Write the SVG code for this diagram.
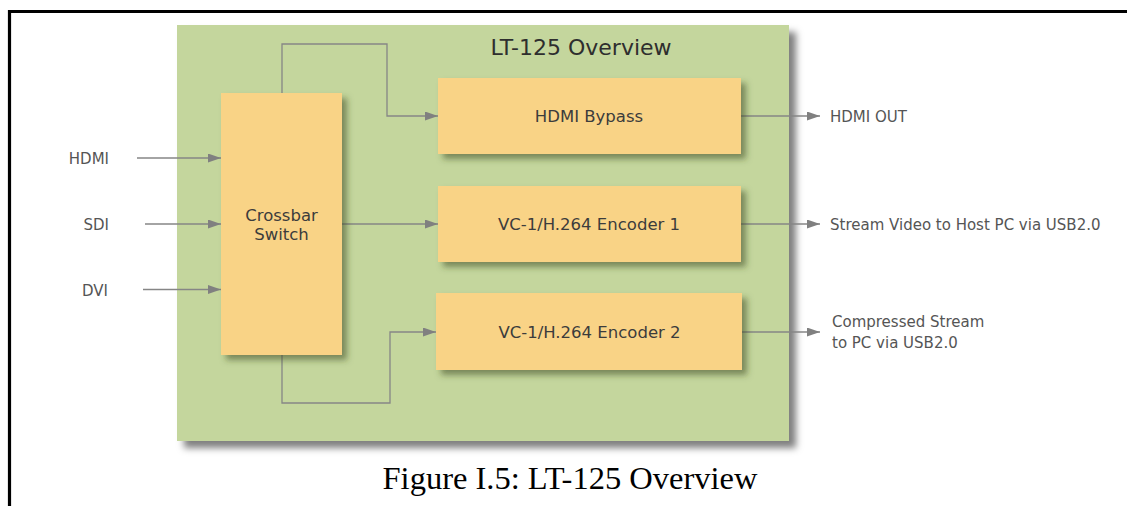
<svg xmlns="http://www.w3.org/2000/svg" width="1127" height="506" viewBox="0 0 1127 506">
<defs>
<style>
.lbl{font-family:"DejaVu Sans","Verdana",sans-serif;fill:#3c3c3c;font-size:16.5px;text-anchor:middle}
.out{font-family:"DejaVu Sans","Verdana",sans-serif;fill:#555555;font-size:15px}
.box{fill:#F9D386;filter:url(#sh)}
.conn{fill:none;stroke:#868686;stroke-width:1.3}
</style>
<filter id="sh" x="-10%" y="-10%" width="130%" height="140%">
<feDropShadow dx="5" dy="5" stdDeviation="3" flood-color="#3a4a20" flood-opacity="0.55"/>
</filter>
<filter id="shp" x="-5%" y="-5%" width="115%" height="120%">
<feDropShadow dx="7" dy="7" stdDeviation="3.5" flood-color="#000" flood-opacity="0.5"/>
</filter>
<marker id="arr" viewBox="0 0 13 9" refX="13" refY="4.5" markerWidth="13" markerHeight="9" markerUnits="userSpaceOnUse" orient="auto">
<path d="M0,0 L13,4.5 L0,9 Z" fill="#808080"/>
</marker>
</defs>
<rect width="1127" height="506" fill="#ffffff"/>
<g id="frame">
<path d="M9.5,506 V11.5 H1127" fill="none" stroke="#000" stroke-width="3.2"/>
</g>
<g id="panel">
<rect x="177" y="25" width="612" height="416" fill="#C4D69D" filter="url(#shp)"/>
<text x="581" y="55" font-family="DejaVu Sans, Verdana, sans-serif" font-size="22" fill="#2e2e2e" text-anchor="middle">LT-125 Overview</text>
</g>
<g id="connectors">
<line class="conn" x1="137" y1="158" x2="221" y2="158" marker-end="url(#arr)"/>
<line class="conn" x1="145" y1="224" x2="221" y2="224" marker-end="url(#arr)"/>
<line class="conn" x1="143" y1="289.5" x2="221" y2="289.5" marker-end="url(#arr)"/>
<path class="conn" d="M282,93 V44 H387 V116 H438" marker-end="url(#arr)"/>
<line class="conn" x1="342" y1="224" x2="438" y2="224" marker-end="url(#arr)"/>
<path class="conn" d="M282,355 V403 H390 V332 H436" marker-end="url(#arr)"/>
<line class="conn" x1="740" y1="116" x2="820" y2="116" marker-end="url(#arr)"/>
<line class="conn" x1="740" y1="224" x2="820" y2="224" marker-end="url(#arr)"/>
<line class="conn" x1="742" y1="332" x2="820" y2="332" marker-end="url(#arr)"/>
</g>
<g id="crossbar">
<rect class="box" x="221" y="93" width="121" height="262"/>
<text class="lbl" x="281.5" y="221">Crossbar</text>
<text class="lbl" x="281.5" y="240">Switch</text>
</g>
<g id="hdmi-bypass">
<rect class="box" x="438" y="78" width="303" height="76"/>
<text class="lbl" x="589" y="122">HDMI Bypass</text>
</g>
<g id="encoder1">
<rect class="box" x="438" y="186" width="303" height="76"/>
<text class="lbl" x="589" y="230">VC-1/H.264 Encoder 1</text>
</g>
<g id="encoder2">
<rect class="box" x="436" y="293" width="306" height="77"/>
<text class="lbl" x="589.5" y="338">VC-1/H.264 Encoder 2</text>
</g>
<g id="inputs">
<text class="out" x="109" y="164" text-anchor="end">HDMI</text>
<text class="out" x="109" y="230" text-anchor="end">SDI</text>
<text class="out" x="108" y="295.5" text-anchor="end">DVI</text>
</g>
<g id="outputs">
<text class="out" x="830" y="122">HDMI OUT</text>
<text class="out" x="830" y="230">Stream Video to Host PC via USB2.0</text>
<text class="out" x="832" y="326.5">Compressed Stream</text>
<text class="out" x="832" y="348">to PC via USB2.0</text>
</g>
<g id="caption">
<text x="570" y="489" font-family="Liberation Serif, Times New Roman, serif" font-size="32.5" fill="#000" text-anchor="middle">Figure I.5: LT-125 Overview</text>
</g>
</svg>
